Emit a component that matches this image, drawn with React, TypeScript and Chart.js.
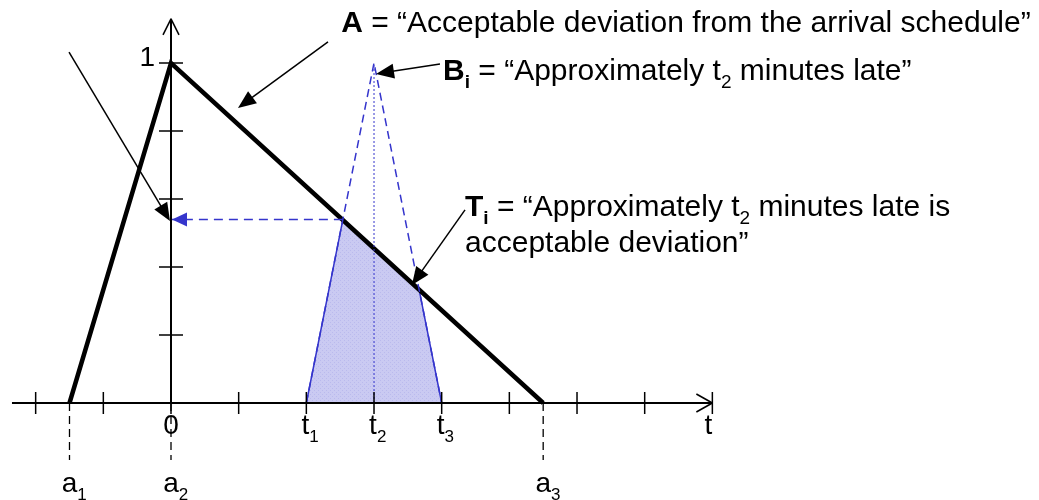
import React, { useEffect, useRef } from "react";
import { Chart, registerables } from "chart.js";

Chart.register(...registerables);

const FONT = '"Liberation Sans", Arial, Helvetica, sans-serif';

// Membership function A: "Acceptable deviation from the arrival schedule"
const acceptX = [-1.5, 0, 5.5];
const acceptY = [0, 1, 0];
// Membership function B_i: "Approximately t2 minutes late"
const approxX = [2, 3, 4];
const approxY = [0, 1, 0];
// Result T_i (shaded region)
const resultX = [2, 2.54, 3.67, 4];
const resultY = [0, 0.54, 0.33, 0];
// Dotted peak marker at t2
const peakX = [3, 3];
const peakY = [0, 1];
// Projection of the intersection onto the membership axis
const projX = [2.54, 0];
const projY = [0.54, 0.54];

// Axes
const xTicks = [-2, -1, 0, 1, 2, 3, 4, 5, 6, 7, 8];
const yTicks = [0.2, 0.4, 0.6, 0.8, 1];
const xAxisExtent = [-2.35, 8];
const yAxisExtent = [0, 1.13];
const xScaleRange = [-2.527, 12.827];
const yScaleRange = [-0.2853, 1.1853];

// Labels on the time axis
const tLabelSubs = ["1", "2", "3"];
const tLabelValues = [2, 3, 4];
const aLabelSubs = ["1", "2", "3"];
const aLabelValues = [-1.5, 0, 5.5];
const dropToValue = -0.168;

const BLUE = "#3535cc";

function pts(xs: number[], ys: number[]) {
  return xs.map((v, i) => ({ x: v, y: ys[i] }));
}

type Part = { t: string; bold?: boolean; sub?: boolean };

function fontFor(p: Part, size: number) {
  const s = p.sub ? Math.round(size * 0.62) : size;
  return `${p.bold ? "bold " : ""}${s}px ${FONT}`;
}

function drawRich(ctx: CanvasRenderingContext2D, parts: Part[], x: number, y: number, size: number) {
  let cx = x;
  ctx.textAlign = "left";
  ctx.textBaseline = "alphabetic";
  for (const p of parts) {
    ctx.font = fontFor(p, size);
    ctx.fillText(p.t, cx, y + (p.sub ? size * 0.27 : 0));
    cx += ctx.measureText(p.t).width;
  }
}

function arrowHead(
  ctx: CanvasRenderingContext2D,
  fx: number, fy: number, tx: number, ty: number,
  len: number, half: number, color: string
) {
  const a = Math.atan2(ty - fy, tx - fx);
  ctx.save();
  ctx.fillStyle = color;
  ctx.beginPath();
  ctx.moveTo(tx, ty);
  ctx.lineTo(tx - len * Math.cos(a) + half * Math.sin(a), ty - len * Math.sin(a) - half * Math.cos(a));
  ctx.lineTo(tx - len * Math.cos(a) - half * Math.sin(a), ty - len * Math.sin(a) + half * Math.cos(a));
  ctx.closePath();
  ctx.fill();
  ctx.restore();
}

const diagramPlugin = {
  id: "diagram",
  afterDatasetsDraw(chart: any) {
    const ctx: CanvasRenderingContext2D = chart.ctx;
    const xs = chart.scales.x;
    const ys = chart.scales.y;
    const px = (v: number) => xs.getPixelForValue(v);
    const py = (v: number) => ys.getPixelForValue(v);
    const seg = (x1: number, y1: number, x2: number, y2: number) => {
      ctx.beginPath();
      ctx.moveTo(x1, y1);
      ctx.lineTo(x2, y2);
      ctx.stroke();
    };
    ctx.save();
    ctx.strokeStyle = "#000";
    ctx.fillStyle = "#000";
    ctx.lineCap = "butt";

    // axes
    ctx.lineWidth = 2;
    const x0 = px(0), y0 = py(0);
    const xEnd = px(xAxisExtent[1]);
    const yTop = py(yAxisExtent[1]);
    seg(px(xAxisExtent[0]), y0, xEnd, y0);
    seg(x0, y0, x0, yTop);
    // open arrow heads
    ctx.lineWidth = 1.6;
    seg(xEnd - 16, y0 - 9, xEnd, y0);
    seg(xEnd - 16, y0 + 9, xEnd, y0);
    seg(x0 - 8, yTop + 16, x0, yTop);
    seg(x0 + 8, yTop + 16, x0, yTop);

    // ticks
    ctx.lineWidth = 1.5;
    xTicks.forEach((v) => seg(px(v), y0 - 11, px(v), y0 + 11));
    yTicks.forEach((v) => seg(x0 - 12, py(v), x0 + 12, py(v)));

    // dashed drop lines
    ctx.lineWidth = 1.3;
    ctx.setLineDash([8, 5]);
    aLabelValues.forEach((v) => seg(px(v), y0, px(v), py(dropToValue)));
    ctx.setLineDash([]);

    const LS = 28;
    // "1" on the membership axis
    ctx.font = `${LS}px ${FONT}`;
    ctx.textAlign = "right";
    ctx.fillText("1", x0 - 16, py(1) + 3);

    // "0" and "t"
    ctx.textAlign = "center";
    ctx.fillText("0", x0, y0 + 31);
    ctx.fillText("t", xEnd - 4, y0 + 31);

    // t1, t2, t3
    tLabelValues.forEach((v, i) => {
      ctx.font = `${LS}px ${FONT}`;
      const w = ctx.measureText("t").width;
      drawRich(ctx, [{ t: "t" }, { t: tLabelSubs[i], sub: true }], px(v) - w / 2 - 1, y0 + 31, LS);
    });
    // a1, a2, a3
    aLabelValues.forEach((v, i) => {
      ctx.font = `${LS}px ${FONT}`;
      const w = ctx.measureText("a").width;
      drawRich(ctx, [{ t: "a" }, { t: aLabelSubs[i], sub: true }], px(v) - w / 2, y0 + 89, LS);
    });

    // projection arrow head (blue)
    arrowHead(ctx, px(projX[0]), py(projY[0]), px(projX[1]) + 1, py(projY[1]), 15, 7, BLUE);

    // annotation arrows (black)
    ctx.lineWidth = 1.5;
    const arrows = [
      [2.32, 1.062, 0.99, 0.868],
      [3.975, 0.997, 3.03, 0.968],
      [4.345, 0.568, 3.56, 0.347],
      [-1.507, 1.032, -0.015, 0.535],
    ];
    arrows.forEach(([fx, fy, tx, ty]) => {
      const X1 = px(fx), Y1 = py(fy), X2 = px(tx), Y2 = py(ty);
      const a = Math.atan2(Y2 - Y1, X2 - X1);
      seg(X1, Y1, X2 - 10 * Math.cos(a), Y2 - 10 * Math.sin(a));
      arrowHead(ctx, X1, Y1, X2, Y2, 18, 7.5, "#000");
    });

    // annotation texts
    const TS = 30;
    ctx.fillStyle = "#000";
    drawRich(ctx, [
      { t: "A", bold: true },
      { t: " = \u201cAcceptable deviation from the arrival schedule\u201d" },
    ], px(2.515), py(1.091), TS);
    drawRich(ctx, [
      { t: "B", bold: true },
      { t: "i", bold: true, sub: true },
      { t: " = \u201cApproximately t" },
      { t: "2", sub: true },
      { t: " minutes late\u201d" },
    ], px(4.02), py(0.95), TS);
    drawRich(ctx, [
      { t: "T", bold: true },
      { t: "i", bold: true, sub: true },
      { t: " = \u201cApproximately t" },
      { t: "2", sub: true },
      { t: " minutes late is" },
    ], px(4.345), py(0.55), TS);
    drawRich(ctx, [{ t: "acceptable deviation\u201d" }], px(4.345), py(0.445), TS);

    ctx.restore();
  },
};

export default function App() {
  const ref = useRef<HTMLCanvasElement | null>(null);

  useEffect(() => {
    const canvas = ref.current;
    if (!canvas) return;
    const pc = document.createElement("canvas");
    pc.width = 4;
    pc.height = 4;
    const pctx = pc.getContext("2d")!;
    pctx.fillStyle = "#cacaf2";
    pctx.fillRect(0, 0, 4, 4);
    pctx.fillStyle = "#babaed";
    pctx.fillRect(0, 0, 1, 1);
    pctx.fillRect(2, 2, 1, 1);
    const pattern = canvas.getContext("2d")!.createPattern(pc, "repeat");

    const common = { showLine: true, pointRadius: 0, pointHoverRadius: 0, fill: false, tension: 0 };
    const chart = new Chart(canvas, {
      type: "scatter",
      data: {
        datasets: [
          {
            ...common,
            label: "B_i peak",
            data: pts(peakX, peakY),
            borderColor: BLUE,
            borderWidth: 1,
            borderDash: [2, 2],
            order: 1,
          },
          {
            ...common,
            label: "B_i",
            data: pts(approxX, approxY),
            borderColor: BLUE,
            borderWidth: 1.5,
            borderDash: [8, 5],
            order: 2,
          },
          {
            ...common,
            label: "projection",
            data: pts(projX, projY),
            borderColor: BLUE,
            borderWidth: 1.5,
            borderDash: [9, 6],
            order: 3,
          },
          {
            ...common,
            label: "A",
            data: pts(acceptX, acceptY),
            borderColor: "#000",
            borderWidth: 4.5,
            borderJoinStyle: "miter",
            order: 4,
          },
          {
            ...common,
            label: "T_i",
            data: pts(resultX, resultY),
            borderColor: BLUE,
            borderWidth: 1.5,
            backgroundColor: pattern as any,
            fill: "origin",
            order: 5,
          },
        ],
      },
      options: {
        responsive: false,
        animation: false,
        layout: { padding: 0 },
        plugins: { legend: { display: false }, tooltip: { enabled: false }, title: { display: false } },
        events: [],
        scales: {
          x: { type: "linear", display: false, min: xScaleRange[0], max: xScaleRange[1] },
          y: { type: "linear", display: false, min: yScaleRange[0], max: yScaleRange[1] },
        },
      },
      plugins: [diagramPlugin],
    } as any);
    return () => chart.destroy();
  }, []);

  return (
    <div style={{ position: "absolute", left: 0, top: 0, width: 1039, height: 500, background: "#fff" }}>
      <canvas ref={ref} width={1039} height={500} style={{ display: "block" }} />
    </div>
  );
}
